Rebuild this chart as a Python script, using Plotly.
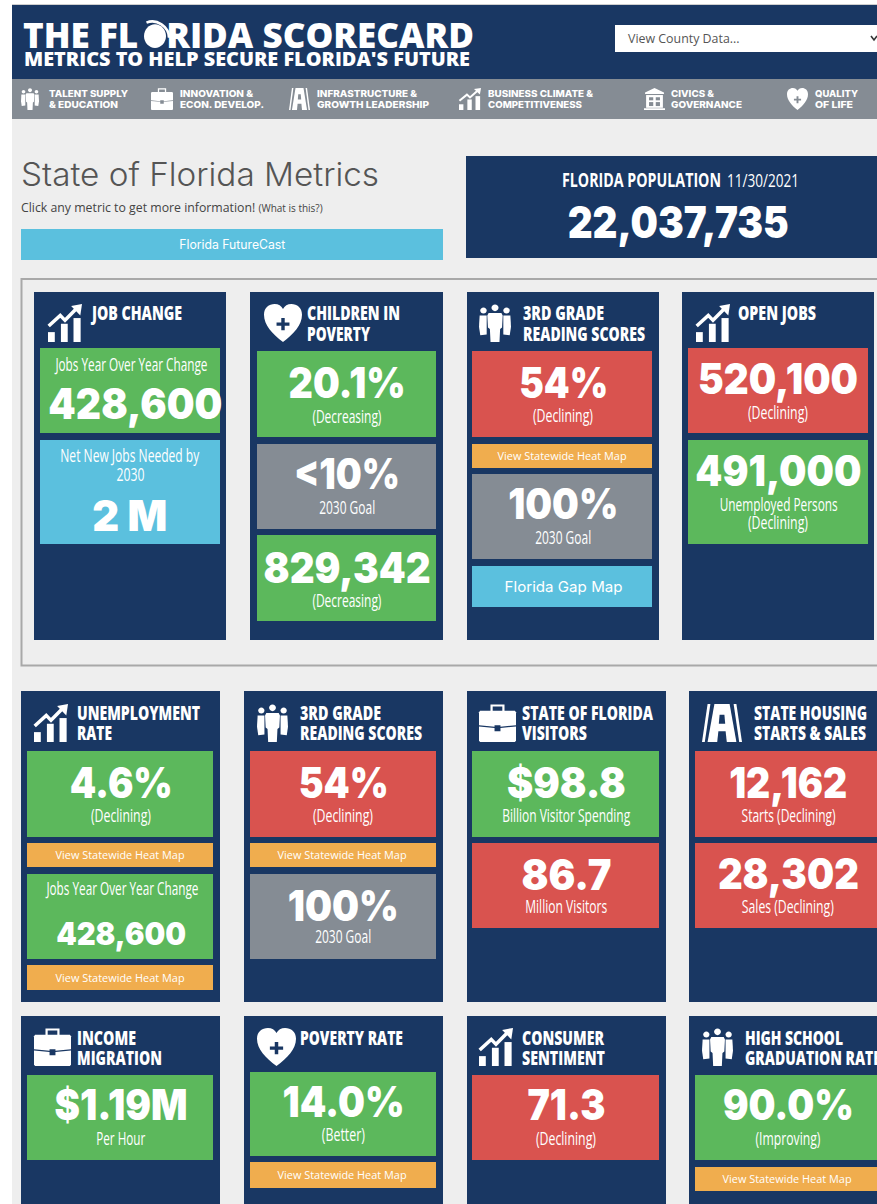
import json
import plotly.graph_objects as go

W, H = 877, 1204
# ---------- data (text and readings) ----------
LOGO_TITLE_A, LOGO_O, LOGO_TITLE_B = "THE FL", "O", "RIDA SCORECARD"
LOGO_SUB = "METRICS TO HELP SECURE FLORIDA'S FUTURE"
NAV_LINE1 = ["TALENT SUPPLY", "INNOVATION &", "INFRASTRUCTURE &", "BUSINESS CLIMATE &", "CIVICS &", "QUALITY"]
NAV_LINE2 = ["& EDUCATION", "ECON. DEVELOP.", "GROWTH LEADERSHIP", "COMPETITIVENESS", "GOVERNANCE", "OF LIFE"]
PAGE_TITLE = "State of Florida Metrics"
POP_LABEL = "FLORIDA POPULATION"
POP_DATE = "11/30/2021"
POP_VALUE = "22,037,735"
CARD_TITLES = [
    ["JOB CHANGE"], ["CHILDREN IN", "POVERTY"], ["3RD GRADE", "READING SCORES"], ["OPEN JOBS"],
    ["UNEMPLOYMENT", "RATE"], ["3RD GRADE", "READING SCORES"], ["STATE OF FLORIDA", "VISITORS"], ["STATE HOUSING", "STARTS & SALES"],
    ["INCOME", "MIGRATION"], ["POVERTY RATE"], ["CONSUMER", "SENTIMENT"], ["HIGH SCHOOL", "GRADUATION RATE"],
]
CARD_ICONS = ["chart", "heart", "people", "chart", "chart", "people", "case", "road", "case", "heart", "chart", "people"]
HEAT = "View Statewide Heat Map"
TILE_STATUS = [
    ["good", "info"], ["good", "goal", "good"], ["bad", "link", "goal", "info"], ["bad", "good"],
    ["good", "link", "good", "link"], ["bad", "link", "goal"], ["good", "bad"], ["bad", "bad"],
    ["good"], ["good", "link"], ["bad"], ["good", "link"],
]
TILE_VALUES = [
    ["428,600", "2 M"], ["20.1%", "<10%", "829,342"], ["54%", HEAT, "100%", "Florida Gap Map"], ["520,100", "491,000"],
    ["4.6%", HEAT, "428,600", HEAT], ["54%", HEAT, "100%"], ["$98.8", "86.7"], ["12,162", "28,302"],
    ["$1.19M"], ["14.0%", HEAT], ["71.3"], ["90.0%", HEAT],
]
TILE_NOTES = [
    [["Jobs Year Over Year Change"], ["Net New Jobs Needed by", "2030"]],
    [["(Decreasing)"], ["2030 Goal"], ["(Decreasing)"]],
    [["(Declining)"], [], ["2030 Goal"], []],
    [["(Declining)"], ["Unemployed Persons", "(Declining)"]],
    [["(Declining)"], [], ["Jobs Year Over Year Change"], []],
    [["(Declining)"], [], ["2030 Goal"]],
    [["Billion Visitor Spending"], ["Million Visitors"]],
    [["Starts (Declining)"], ["Sales (Declining)"]],
    [["Per Hour"]], [["(Better)"], []], [["(Declining)"]], [["(Improving)"], []],
]
# ---------- layout (pixels) ----------
CARD_BOX = [  # left, right, top, bottom
    (34, 226, 292, 640), (250, 443, 292, 640), (467, 659, 292, 640), (682, 874, 292, 640),
    (21, 220, 691, 1002), (244, 443, 691, 1002), (467, 666, 691, 1002), (689, 900, 691, 1002),
    (21, 220, 1016, 1230), (244, 443, 1016, 1230), (467, 666, 1016, 1230), (689, 900, 1016, 1230),
]
TILE_X = [(40, 220), (257, 436), (472, 652), (688, 868),
          (27, 213), (250, 436), (472, 659), (695, 900),
          (27, 213), (250, 436), (472, 659), (695, 900)]
TILE_CX = [130, 347, 563, 778, 121, 343, 566, 788, 121, 343, 566, 788]
VALUE_CX = {(0, 0): 135}
TILE_Y = [
    [(348, 433), (440, 544)], [(351, 437), (444, 529), (535, 621)],
    [(351, 437), (444, 468), (474, 559), (566, 607)], [(348, 433), (440, 544)],
    [(751, 837), (843, 867), (874, 959), (965, 990)], [(751, 837), (843, 867), (874, 959)],
    [(751, 837), (843, 928)], [(751, 837), (843, 928)],
    [(1075, 1160)], [(1072, 1156), (1162, 1188)], [(1075, 1160)], [(1075, 1160), (1167, 1191)],
]
VALUE_Y = [
    [403, 515], [382, 473, 567], [382, 456, 503, 586], [378, 470],
    [782, 855, 933, 978], [782, 855, 905], [782, 874], [782, 873],
    [1104], [1101, 1175], [1104], [1104, 1179],
]
NOTE_Y = [
    [[364], [455, 474]], [[416], [507], [600]], [[415], [], [537], []], [[412], [504, 522]],
    [[815], [], [888], []], [[815], [], [936]], [[815], [906]], [[815], [906]],
    [[1138]], [[1134], []], [[1138]], [[1138], []],
]
VALUE_SIZE = [
    [42, 42], [42, 42, 42], [42, 0, 42, 0], [42, 42],
    [42, 0, 32, 0], [42, 0, 42], [42, 42], [42, 42],
    [42], [42, 0], [42], [42, 0],
]
VALUE_W = [
    [174, 75], [117, 106, 167], [89, 129, 110, 118], [160, 166],
    [103, 129, 130, 129], [90, 129, 111], [119, 90], [118, 141],
    [133], [122, 129], [78], [131, 129],
]
NOTE_W = {"Jobs Year Over Year Change": 152, "(Decreasing)": 69, "2030 Goal": 56, "Net New Jobs Needed by": 139,
          "2030": 28, "(Declining)": 60, "Unemployed Persons": 118, "Billion Visitor Spending": 128,
          "Million Visitors": 82, "Starts (Declining)": 94, "Sales (Declining)": 92, "Per Hour": 49,
          "(Better)": 43, "(Improving)": 65}
TITLE_W = {"JOB CHANGE": 90, "CHILDREN IN": 93, "POVERTY": 63, "3RD GRADE": 81, "READING SCORES": 122, "OPEN JOBS": 78,
           "UNEMPLOYMENT": 123, "RATE": 35, "STATE OF FLORIDA": 131, "VISITORS": 65, "STATE HOUSING": 113,
           "STARTS & SALES": 112, "INCOME": 59, "MIGRATION": 85, "POVERTY RATE": 103, "CONSUMER": 82, "SENTIMENT": 83,
           "HIGH SCHOOL": 98, "GRADUATION RATE": 136}
NAV_W1 = [79, 73, 100, 105, 43, 43]
NAV_W2 = [69, 84, 112, 94, 71, 38]
TITLE_X = [90, 307, 523, 738, 77, 300, 522, 754, 77, 300, 522, 745]
TITLE_Y = [(312.5, 333.5)] * 4 + [(712.5, 732.5)] * 4 + [(1037.5, 1057.5)] * 4
ICON_BOX = [(48, 304, 34, 38), (264, 304, 38, 38), (479, 304, 32, 38), (696, 304, 34, 38),
            (34, 704, 34, 38), (257, 704, 31, 38), (479, 704, 37, 38), (702, 704, 40, 38),
            (34, 1028, 37, 38), (257, 1028, 39, 38), (479, 1028, 34, 38), (702, 1028, 31, 38)]
NAV_TEXT_X = [49, 180, 317, 488, 671, 815]
NAV_ICON = [("people", 21, 18), ("case", 151, 22), ("road", 289, 21), ("chart", 459, 22), ("bank", 644, 21), ("heart", 787, 21)]

NAVY, GREEN, RED, GRAY, BLUE, ORANGE, BG = "#193763", "#5cb85c", "#d9534f", "#858c94", "#5bc0de", "#f0ad4e", "#eeeeee"
STATUS_COLOR = {"good": GREEN, "bad": RED, "goal": GRAY, "info": BLUE, "link": ORANGE}
HEAD = "Inter"
BODY = "Open Sans"

shapes, notes, fits = [], [], {}


def rect(x0, y0, x1, y1, color, line=None, lw=0):
    shapes.append(dict(type="rect", xref="x", yref="y", x0=x0, y0=y0, x1=x1, y1=y1, fillcolor=color,
                       line=dict(color=line or color, width=lw)))


def text(x, y, s, size, family=BODY, weight=400, color="white", anchor="center", fit=None):
    if fit:
        fits[len(notes)] = [fit, anchor]
    notes.append(dict(x=x, y=y, xref="x", yref="y", text=s, showarrow=False, xanchor=anchor, yanchor="middle",
                      align=anchor, borderpad=0, borderwidth=0,
                      font=dict(family=family, size=size, color=color, weight=weight)))


def unit_path(d, x, y, w, h):
    out, is_x = [], True
    for tok in d.split():
        if tok.isalpha():
            out.append(tok)
            is_x = True
        else:
            v = float(tok)
            out.append(f"{(x + v * w) if is_x else (y + v * h):.2f}")
            is_x = not is_x
    return " ".join(out)


def fill(d, box, color="white"):
    shapes.append(dict(type="path", xref="x", yref="y", path=unit_path(d, *box), fillcolor=color, line=dict(width=0)))


def stroke(d, box, width, color="white"):
    shapes.append(dict(type="path", xref="x", yref="y", path=unit_path(d, *box), line=dict(color=color, width=width)))


def blob(cx, cy, rx, ry):
    k = 0.55
    return (f"M {cx-rx} {cy} C {cx-rx} {cy-k*ry} {cx-k*rx} {cy-ry} {cx} {cy-ry} C {cx+k*rx} {cy-ry} {cx+rx} {cy-k*ry} {cx+rx} {cy} "
            f"C {cx+rx} {cy+k*ry} {cx+k*rx} {cy+ry} {cx} {cy+ry} C {cx-k*rx} {cy+ry} {cx-rx} {cy+k*ry} {cx-rx} {cy} Z")


def icon(kind, box, back=NAVY):
    s = box[3] / 38
    if kind == "chart":
        for a, b, top in [(0, .2, .74), (.38, .58, .52), (.75, .96, .37)]:
            fill(f"M {a} {top} L {b} {top} L {b} 1 L {a} 1 Z", box)
        stroke("M .02 .58 L .36 .3 L .5 .43 L .84 .12", box, 3.5 * s)
        fill("M 1 0 L .68 .05 L .95 .3 Z", box)
    elif kind == "heart":
        fill("M .5 1 C .22 .78 0 .55 0 .28 C 0 .1 .13 0 .28 0 C .38 0 .46 .05 .5 .13 C .54 .05 .62 0 .72 0 C .87 0 1 .1 1 .28 C 1 .55 .78 .78 .5 1 Z", box)
        fill("M .455 .37 L .545 .37 L .545 .49 L .67 .49 L .67 .57 L .545 .57 L .545 .69 L .455 .69 L .455 .57 L .33 .57 L .33 .49 L .455 .49 Z", box, back)
    elif kind == "people":
        for cx, cy, r in [(.14, .17, .1), (.86, .17, .1), (.5, .1, .11)]:
            fill(blob(cx, cy, r, r * .8), box)
        fill("M .02 .3 L .24 .3 L .24 .8 L .04 .82 L 0 .6 Z", box)
        fill("M .98 .3 L .76 .3 L .76 .8 L .96 .82 L 1 .6 Z", box)
        fill("M .3 .24 L .7 .24 L .74 .3 L .72 .62 L .66 .66 L .64 1 L .36 1 L .34 .66 L .28 .62 L .26 .3 Z", box)
    elif kind == "case":
        stroke("M .34 .2 L .34 .04 L .66 .04 L .66 .2", box, 2.2 * s)
        fill("M .03 .18 L .97 .18 L 1 .22 L 1 .97 L .97 1 L .03 1 L 0 .97 L 0 .22 Z", box)
        fill("M 0 .56 L .42 .6 L .42 .56 L .58 .56 L .58 .6 L 1 .56 L 1 .59 L .58 .63 L .58 .72 L .42 .72 L .42 .63 L 0 .59 Z", box, back)
    elif kind == "road":
        fill("M .14 0 L .21 0 L .07 1 L 0 1 Z", box)
        fill("M .79 0 L .86 0 L 1 1 L .93 1 Z", box)
        fill("M .31 0 L .69 0 L .86 1 L .14 1 Z", box)
        fill("M .44 .28 L .56 .28 L .58 .52 L .42 .52 Z", box, back)
        fill("M .41 .72 L .59 .72 L .62 1 L .38 1 Z", box, back)
    elif kind == "bank":
        fill("M .5 0 L .95 .2 L .95 .27 L .05 .27 L .05 .2 Z", box)
        fill("M .1 .32 L .9 .32 L .9 .9 L .1 .9 Z", box)
        fill("M 0 .92 L 1 .92 L 1 1 L 0 1 Z", box)
        for a, b in [(.24, .44), (.56, .76)]:
            fill(f"M {a} .42 L {b} .42 L {b} .56 L {a} .56 Z", box, back)
            fill(f"M {a} .64 L {b} .64 L {b} .82 L {a} .82 Z", box, back)


# page background and header
rect(12, 4, W + 10, 5, "#cfcfcf")
rect(12, 5, W + 10, H + 10, BG)
rect(12, 5, W + 10, 79, NAVY)
rect(12, 79, W + 10, 119, GRAY)
# the logo's O is a globe: disc plus arc, the glyph itself stays in the text, transparent
fill(blob(.44, .56, .44, .44), (144, 21, 25, 27))
stroke("M .1 .06 C .5 -.1 1 .2 1 .62", (144, 21, 25, 27), 2.6)
text(23, 34, f"{LOGO_TITLE_A}<span style='color:rgba(25,55,99,0)'>{LOGO_O}</span>{LOGO_TITLE_B}", 35, BODY, 800, anchor="left", fit=451)
text(24, 58.5, LOGO_SUB, 19, BODY, 800, anchor="left", fit=446)
rect(615, 25, W + 10, 52, "white")
text(628, 38, "View County Data...", 12.4, BODY, 400, "#555555", "left")
stroke("M 0 0 L .5 1 L 1 0", (871, 36, 6, 4), 1.6, "#333333")

for i, name in enumerate(NAV_LINE1):
    text(NAV_TEXT_X[i], 93, name, 9.5, HEAD, 800, anchor="left", fit=NAV_W1[i])
    text(NAV_TEXT_X[i], 104, NAV_LINE2[i], 9.5, HEAD, 800, anchor="left", fit=NAV_W2[i])
    kind, ix, iw = NAV_ICON[i]
    icon(kind, (ix, 88, iw, 22), GRAY)

text(21, 174, PAGE_TITLE, 32, HEAD, 300, "#555555", "left", fit=358)
text(21, 207, "Click any metric to get more information! <span style='font-size:10px'>(What is this?)</span>", 12.3,
     BODY, 400, "#444444", "left")
rect(21, 229, 443, 260, BLUE)
text(232, 244, "Florida FutureCast", 12.5, HEAD, 400, fit=106)
rect(466, 156, W + 10, 258, NAVY)
text(562, 179.5, POP_LABEL, 19, BODY, 700, anchor="left", fit=159)
text(727, 179.5, POP_DATE, 19, BODY, 400, anchor="left", fit=72)
text(678, 222, POP_VALUE, 44, HEAD, 900, fit=221)

# framed group around the first row
shapes.append(dict(type="rect", xref="x", yref="y", x0=21.5, y0=279, x1=W + 20, y1=665.5, line=dict(color="#a8a8a8", width=2)))

# cards
for c, (x0, x1, y0, y1) in enumerate(CARD_BOX):
    rect(x0, y0, x1, y1, NAVY)
    icon(CARD_ICONS[c], ICON_BOX[c])
    for line, ly in zip(CARD_TITLES[c], TITLE_Y[c]):
        text(TITLE_X[c], ly, line, 19.5, BODY, 800, anchor="left", fit=TITLE_W[line])
    tx0, tx1 = TILE_X[c]
    cx = TILE_CX[c]
    for t, status in enumerate(TILE_STATUS[c]):
        ty0, ty1 = TILE_Y[c][t]
        rect(tx0, ty0, tx1, ty1, STATUS_COLOR[status])
        value = TILE_VALUES[c][t]
        if status == "link":
            text(cx - 1, VALUE_Y[c][t], value, 10.5, BODY, 400, fit=VALUE_W[c][t])
        elif value == "Florida Gap Map":
            text(cx, VALUE_Y[c][t], value, 14.5, HEAD, 400, fit=VALUE_W[c][t])
        else:
            text(VALUE_CX.get((c, t), cx), VALUE_Y[c][t], value, VALUE_SIZE[c][t], HEAD, 900, fit=VALUE_W[c][t])
        for line, ly in zip(TILE_NOTES[c][t], NOTE_Y[c][t]):
            text(cx, ly, line, 18, BODY, 400, fit=NOTE_W[line])

fig = go.Figure()
fig.update_layout(
    width=W, height=H, margin=dict(l=0, r=0, t=0, b=0), autosize=False,
    paper_bgcolor="white", plot_bgcolor="white", showlegend=False, hovermode=False,
    xaxis=dict(range=[0, W], visible=False, fixedrange=True),
    yaxis=dict(range=[H, 0], visible=False, fixedrange=True),
    shapes=shapes, annotations=notes,
)
# condensed type is not installed: squeeze the installed faces to the measured text widths
script = (
    "document.body.style.margin='0';document.documentElement.style.overflow='hidden';"
    f"var fits={json.dumps(fits)};"
    "Object.keys(fits).forEach(function(i){"
    "var g=document.querySelector('.annotation[data-index=\"'+i+'\"]');if(!g)return;"
    "var t=g.querySelector('text.annotation-text'),b=g.querySelector('rect.bg'),w=fits[i][0];"
    "t.setAttribute('textLength',w);t.setAttribute('lengthAdjust','spacingAndGlyphs');"
    "if(b){var o=parseFloat(b.getAttribute('width'));"
    "if(fits[i][1]==='center'){b.setAttribute('x',parseFloat(b.getAttribute('x')||0)+(o-w)/2);}"
    "b.setAttribute('width',w);}"
    "});"
)
fig.write_html("out.html", config={"displayModeBar": False}, post_script=script)
